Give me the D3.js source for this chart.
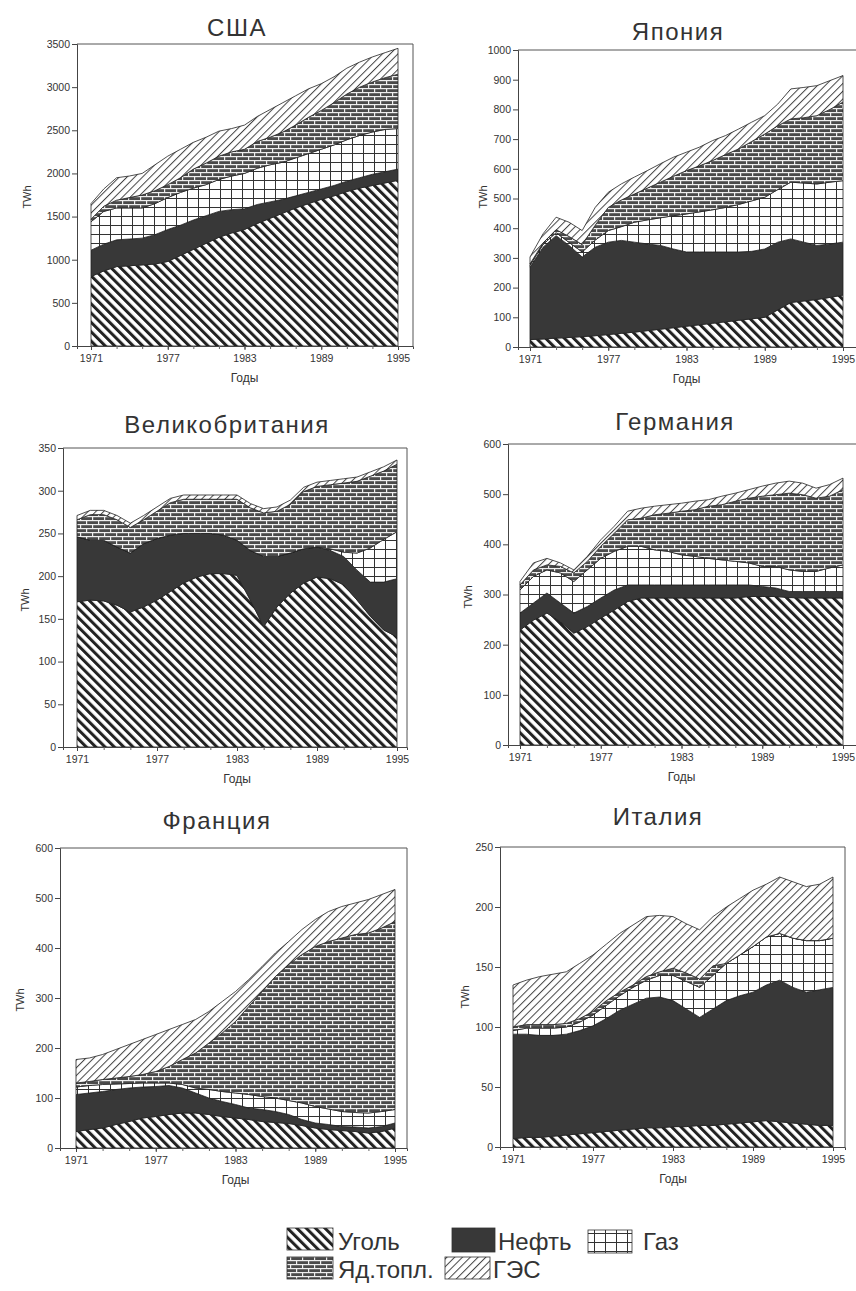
<!DOCTYPE html>
<html><head><meta charset="utf-8">
<script src="https://cdn.jsdelivr.net/npm/d3@7"></script>
<style>
body{margin:0;background:#fff}
svg{display:block}
text{font-family:"Liberation Sans",Arial,sans-serif;fill:#333}
</style>
</head><body>
<svg id="chart" width="856" height="1291"></svg>
<script>
// ---------- DATA ----------
const years = [1971,1972,1973,1974,1975,1976,1977,1978,1979,1980,1981,1982,1983,1984,1985,1986,1987,1988,1989,1990,1991,1992,1993,1994,1995];
const xTickYears = [1971,1977,1983,1989,1995];
const xTickLabels = ["1971","1977","1983","1989","1995"];
const minorTickYears = [1971,1973,1975,1977,1979,1981,1983,1985,1987,1989,1991,1993,1995];
const sourceKeys = ["coal","oil","gas","nuclear","hydro"];
const sourceNames = ["Уголь","Нефть","Газ","Яд.топл.","ГЭС"];
const countryNames = ["США","Япония","Великобритания","Германия","Франция","Италия"];
const yAxisLabel = "TWh";
const xAxisLabel = "Годы";

// США
const usaCoal    = [805,870,920,930,940,950,980,1050,1120,1190,1260,1310,1350,1420,1480,1540,1600,1650,1700,1740,1790,1830,1860,1890,1920];
const usaOil     = [305,310,310,310,310,340,370,350,340,320,300,270,240,220,190,160,140,130,120,120,120,120,130,130,130];
const usaGas     = [330,380,370,360,350,360,370,380,370,360,370,390,410,420,430,430,440,450,460,470,480,490,490,490,470];
const usaNuclear = [30,60,90,120,150,150,150,170,220,250,270,280,280,310,320,350,380,420,450,490,530,560,580,600,630];
const usaHydro   = [180,200,260,250,250,300,330,330,310,300,290,270,280,290,320,340,340,330,310,300,300,290,290,290,300];
const usaTicks   = [0,500,1000,1500,2000,2500,3000,3500];

// Япония
const japCoal    = [25,27,30,32,35,38,42,46,50,55,60,65,70,75,80,85,90,95,100,125,150,155,160,167,175];
const japOil     = [244,309,345,310,268,298,311,313,303,292,282,265,250,245,240,235,230,227,230,228,214,198,182,180,178];
const japGas     = [6,9,10,10,17,24,39,46,67,81,93,112,128,135,142,150,160,170,174,177,191,199,207,208,207];
const japNuclear = [5,5,10,20,25,50,78,90,95,107,120,133,146,155,166,178,187,200,213,215,213,220,230,245,265];
const japHydro   = [23,31,42,48,47,60,51,54,57,59,62,64,62,63,67,64,67,65,62,73,101,102,101,97,89];
const japTicks   = [0,100,200,300,400,500,600,700,800,900,1000];

// Великобритания
const ukCoal     = [170,172,171,166,158,164,172,182,192,199,203,203,201,172,141,164,180,192,199,197,190,172,153,137,129];
const ukOil      = [76,70,71,68,69,74,72,66,58,51,47,45,41,58,82,59,47,40,35,33,33,35,40,56,68];
const ukGas      = [0,0,0,0,0,0,0,0,0,0,0,0,0,0,0,0,0,0,0,2,5,20,40,50,55];
const ukNuclear  = [20,30,30,32,30,28,32,38,40,40,40,42,48,50,51,53,57,67,71,75,81,84,84,80,79];
const ukHydro    = [5,5,5,5,5,5,5,5,5,5,5,5,5,5,5,5,5,5,5,5,5,5,5,5,5];
const ukTicks    = [0,50,100,150,200,250,300,350];

// Германия
const gerCoal    = [229,249,263,246,223,236,253,269,286,293,293,293,293,293,293,293,293,296,296,296,294,293,293,293,293];
const gerOil     = [34,34,40,37,40,40,40,40,33,26,26,26,26,26,26,26,26,23,20,17,12,13,13,13,13];
const gerGas     = [46,53,46,60,63,73,79,77,77,77,70,67,60,57,53,50,47,44,40,43,43,40,40,47,53];
const gerNuclear = [10,13,10,13,17,17,24,36,53,56,70,76,87,93,104,110,120,129,140,143,153,153,146,143,150];
const gerHydro   = [7,14,13,7,6,10,13,14,17,20,17,17,16,17,13,17,16,17,20,23,24,23,20,23,23];
const gerTicks   = [0,100,200,300,400,500,600];

// Франция
const frCoal     = [33,37,40,47,53,60,63,67,70,70,67,63,60,57,53,51,49,45,40,37,35,33,30,33,40];
const frOil      = [74,73,73,70,67,62,60,58,50,40,33,30,27,23,24,22,18,12,10,10,8,9,10,10,10];
const frGas      = [15,15,14,11,9,8,7,5,7,10,17,20,23,27,26,27,28,33,33,31,30,29,30,30,27];
const frNuclear  = [8,8,10,12,14,17,23,33,50,70,93,117,143,176,210,243,272,297,320,335,347,356,360,367,376];
const frHydro    = [47,47,50,57,64,70,74,74,70,67,63,63,60,54,50,47,46,50,54,60,63,63,67,67,64];
const frTicks    = [0,100,200,300,400,500,600];

// Италия
const itCoal     = [7,8,8,9,10,11,12,13,14,15,16,16,17,17,18,18,19,20,21,22,21,20,19,18,18];
const itOil      = [87,86,85,84,84,86,89,94,100,104,108,109,105,98,90,97,103,106,108,113,118,113,110,113,115];
const itGas      = [3,5,6,6,6,7,9,11,12,14,15,18,21,23,25,28,31,34,38,40,39,41,43,41,41];
const itNuclear  = [3,3,3,3,3,3,3,4,3,2,3,3,6,7,7,8,0,0,0,0,0,0,0,0,0];
const itHydro    = [35,37,40,42,43,46,47,47,49,50,50,47,43,41,41,41,47,47,47,44,47,47,45,47,51];
const itTicks    = [0,50,100,150,200,250];

// ---------- LAYOUT ----------
const layouts = [
  {left:77,  right:413, top:44,  bottom:346,  x0:91,  x1:398, tx:237, ty:36,   lx:27,  ly:197},
  {left:518, right:860, top:50,  bottom:347,  x0:530, x1:843, tx:678, ty:40,   lx:483, ly:197},
  {left:63,  right:407, top:448, bottom:747,  x0:77,  x1:397, tx:227, ty:433,  lx:25,  ly:600},
  {left:508, right:860, top:444, bottom:745,  x0:520, x1:843, tx:675, ty:430,  lx:468, ly:597},
  {left:60,  right:407, top:848, bottom:1148, x0:76,  x1:395, tx:217, ty:829,  lx:20,  ly:1000},
  {left:500, right:845, top:847, bottom:1147, x0:513, x1:833, tx:658, ty:825,  lx:465, ly:997}
];
const panelSeries = [
  [usaCoal,usaOil,usaGas,usaNuclear,usaHydro],
  [japCoal,japOil,japGas,japNuclear,japHydro],
  [ukCoal,ukOil,ukGas,ukNuclear,ukHydro],
  [gerCoal,gerOil,gerGas,gerNuclear,gerHydro],
  [frCoal,frOil,frGas,frNuclear,frHydro],
  [itCoal,itOil,itGas,itNuclear,itHydro]
];
const panelTicks = [usaTicks,japTicks,ukTicks,gerTicks,frTicks,itTicks];

const svg = d3.select("#chart");
const defs = svg.append("defs");

// ---------- PATTERNS ----------
function stripes(id, width, lineW, angle, color){
  const p = defs.append("pattern").attr("id",id).attr("patternUnits","userSpaceOnUse")
    .attr("width",width).attr("height",width).attr("patternTransform",`rotate(${angle})`);
  p.append("rect").attr("width",width).attr("height",width).attr("fill","#fff");
  p.append("rect").attr("width",lineW).attr("height",width).attr("fill",color);
}
stripes("p-coal", 6.6, 3.0, -45, "#222");
stripes("p-hydro", 5.5, 1.0, 45, "#444");
(function(){
  const p = defs.append("pattern").attr("id","p-gas").attr("patternUnits","userSpaceOnUse")
    .attr("width",11).attr("height",9);
  p.append("rect").attr("width",11).attr("height",9).attr("fill","#fff");
  p.append("rect").attr("x",0).attr("y",0).attr("width",11).attr("height",1).attr("fill","#333");
  p.append("rect").attr("x",0).attr("y",0).attr("width",1).attr("height",9).attr("fill","#333");
})();
(function(){
  const p = defs.append("pattern").attr("id","p-nuclear").attr("patternUnits","userSpaceOnUse")
    .attr("width",12).attr("height",8);
  p.append("rect").attr("width",12).attr("height",8).attr("fill","#4a4a4a");
  p.append("rect").attr("x",0).attr("y",0).attr("width",12).attr("height",1.2).attr("fill","#eee");
  p.append("rect").attr("x",0).attr("y",4).attr("width",12).attr("height",1.2).attr("fill","#eee");
  p.append("rect").attr("x",2).attr("y",0).attr("width",1.2).attr("height",4).attr("fill","#eee");
  p.append("rect").attr("x",8).attr("y",4).attr("width",1.2).attr("height",4).attr("fill","#eee");
})();
const fills = {coal:"url(#p-coal)", oil:"#383838", gas:"url(#p-gas)", nuclear:"url(#p-nuclear)", hydro:"url(#p-hydro)"};

// ---------- PANELS ----------
countryNames.forEach((name, pi) => {
  const L = layouts[pi];
  const ticks = panelTicks[pi];
  const series = panelSeries[pi];
  const g = svg.append("g");
  const x = d3.scaleLinear().domain([years[0], years[years.length-1]]).range([L.x0, L.x1]);
  const xa = d3.scaleLinear().domain([x.invert(L.left), x.invert(L.right)]).range([L.left, L.right]);
  const y = d3.scaleLinear().domain([0, d3.max(ticks)]).range([L.bottom, L.top]);

  const rows = years.map((yr, i) => {
    const r = {year: yr};
    sourceKeys.forEach((k, j) => r[k] = series[j][i]);
    return r;
  });
  const stacked = d3.stack().keys(sourceKeys)(rows);
  const area = d3.area().x(d => x(d.data.year)).y0(d => y(d[0])).y1(d => y(d[1]));

  // frame (top + right)
  g.append("path")
    .attr("d", `M${L.left},${L.top}H${L.right}V${L.bottom}`)
    .attr("fill","none").attr("stroke","#555").attr("stroke-width",1);

  g.selectAll("path.layer").data(stacked).join("path")
    .attr("class","layer")
    .attr("d", area)
    .attr("fill", d => fills[d.key])
    .attr("stroke", "#222").attr("stroke-width", 0.8).attr("stroke-linejoin","round");

  // axes
  const ya = g.append("g").attr("transform", `translate(${L.left},0)`)
    .call(d3.axisLeft(y).tickValues(ticks).tickSize(5).tickPadding(2).tickFormat(d3.format("d")));
  ya.select(".domain").attr("stroke","#444");
  ya.selectAll(".tick line").attr("stroke","#444");
  ya.selectAll("text").attr("font-size",10.5).attr("fill","#333").attr("font-family","Liberation Sans, Arial, sans-serif");

  const xm = g.append("g").attr("transform", `translate(0,${L.bottom})`)
    .call(d3.axisBottom(xa).tickValues(minorTickYears).tickSize(3).tickFormat(""));
  xm.select(".domain").attr("stroke","#444");
  xm.selectAll(".tick line").attr("stroke","#666");
  const xg = g.append("g").attr("transform", `translate(0,${L.bottom})`)
    .call(d3.axisBottom(xa).tickValues(xTickYears).tickSize(4).tickPadding(5)
      .tickFormat((d,i) => xTickLabels[i]));
  xg.select(".domain").remove();
  xg.selectAll(".tick line").attr("stroke","#444");
  xg.selectAll("text").attr("font-size",10.5).attr("fill","#333").attr("font-family","Liberation Sans, Arial, sans-serif");

  // title
  g.append("text").attr("x", L.tx).attr("y", L.ty).attr("text-anchor","middle")
    .attr("font-size",24).attr("letter-spacing","1.5px").attr("fill","#3a3a3a").text(name);
  // y label
  g.append("text").attr("transform", `translate(${L.lx},${L.ly}) rotate(-90)`)
    .attr("text-anchor","middle").attr("dy","0.35em").attr("font-size",11).text(yAxisLabel);
  // x label
  g.append("text").attr("x", (L.x0 + L.x1)/2).attr("y", L.bottom + 36).attr("text-anchor","middle")
    .attr("font-size",12).text(xAxisLabel);
});

// ---------- LEGEND ----------
const legendPos = [
  {rx:287, ry:1228, rw:46, rh:22, tx:338, ty:1250},
  {rx:452, ry:1228, rw:43, rh:24, tx:498, ty:1250},
  {rx:588, ry:1230, rw:44, rh:23, tx:643, ty:1250},
  {rx:287, ry:1257, rw:46, rh:22, tx:338, ty:1278},
  {rx:445, ry:1257, rw:45, rh:22, tx:493, ty:1278}
];
const lg = svg.append("g");
sourceKeys.forEach((k, i) => {
  const p = legendPos[i];
  lg.append("rect").attr("x",p.rx).attr("y",p.ry).attr("width",p.rw).attr("height",p.rh)
    .attr("fill", fills[k]).attr("stroke","#333").attr("stroke-width",0.8);
  lg.append("text").attr("x",p.tx).attr("y",p.ty).attr("font-size",24).attr("fill","#333").text(sourceNames[i]);
});
</script>
</body></html>
